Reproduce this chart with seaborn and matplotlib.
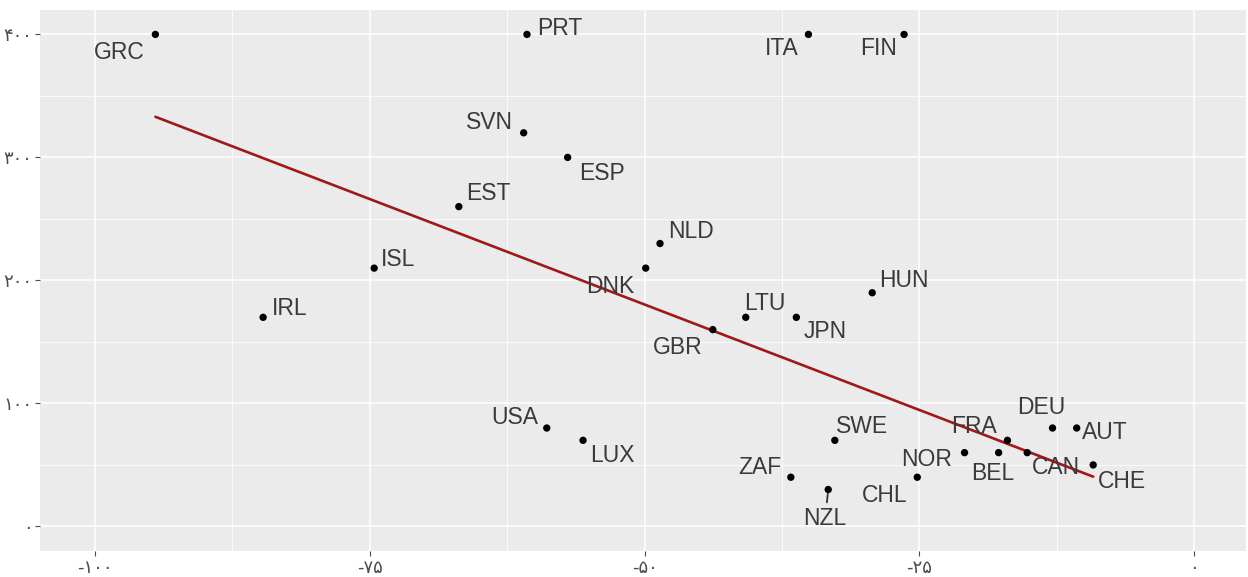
import pandas as pd
import matplotlib.pyplot as plt
import seaborn as sns
from matplotlib.ticker import MultipleLocator

# ------------------------------------------------------------------
# Daten
# ------------------------------------------------------------------
countries = ['GRC', 'PRT', 'ITA', 'FIN', 'SVN', 'ESP', 'EST', 'NLD', 'ISL', 'DNK',
             'IRL', 'HUN', 'LTU', 'JPN', 'GBR', 'USA', 'LUX', 'SWE', 'ZAF', 'NZL',
             'CHL', 'NOR', 'BEL', 'FRA', 'CAN', 'DEU', 'AUT', 'CHE']
x_values = [-94.5, -60.7, -35.1, -26.4, -61.0, -57.0, -66.9, -48.6, -74.6, -49.9,
            -84.7, -29.3, -40.8, -36.2, -43.8, -58.9, -55.6, -32.7, -36.7, -33.3,
            -25.2, -20.9, -17.8, -17.0, -15.2, -12.9, -10.7, -9.2]
y_values = [400, 400, 400, 400, 320, 300, 260, 230, 210, 210,
            170, 190, 170, 170, 160, 80, 70, 70, 40, 30,
            40, 60, 60, 70, 60, 80, 80, 50]

# Trendlinie
trend_intercept = 8.9
trend_slope = -3.43

x_ticks = [-100, -75, -50, -25, 0]
x_tick_labels = ['-۱۰۰', '-۷۵', '-۵۰', '-۲۵', '۰']
y_ticks = [0, 100, 200, 300, 400]
y_tick_labels = ['۰', '۱۰۰', '۲۰۰', '۳۰۰', '۴۰۰']

# Beschriftungs-Versatz in Pixeln (dx rechts, dy nach unten)
label_offsets = {
    'GRC': (-36, 18), 'PRT': (33, -6), 'ITA': (-27, 14), 'FIN': (-26, 14),
    'SVN': (-34, -10), 'ESP': (34, 16), 'EST': (29, -13), 'NLD': (31, -12),
    'ISL': (24, -9), 'DNK': (-35, 18), 'IRL': (27, -9), 'HUN': (32, -12),
    'LTU': (19, -14), 'JPN': (29, 14), 'GBR': (-35, 18), 'USA': (-32, -11),
    'LUX': (29, 15), 'SWE': (27, -14), 'ZAF': (-31, -10), 'NZL': (-3, 29),
    'CHL': (-33, 18), 'NOR': (-38, 7), 'BEL': (-6, 21), 'FRA': (-33, -14),
    'CAN': (29, 15), 'DEU': (-11, -21), 'AUT': (28, 4), 'CHE': (29, 17),
}

df = pd.DataFrame({'land': countries, 'x': x_values, 'y': y_values})

x_line = [min(x_values), max(x_values)]
df_line = pd.DataFrame({'x': x_line,
                        'y': [trend_intercept + trend_slope * v for v in x_line]})

# ------------------------------------------------------------------
# Stil
# ------------------------------------------------------------------
sns.set_theme(style="darkgrid", rc={
    "axes.facecolor": "#EBEBEB",
    "grid.color": "white",
    "xtick.bottom": True,
    "ytick.left": True,
    "xtick.major.size": 3.5,
    "ytick.major.size": 3.5,
    "xtick.major.width": 0.8,
    "ytick.major.width": 0.8,
    "xtick.color": "#4D4D4D",
    "ytick.color": "#4D4D4D",
})
plt.rcParams['font.family'] = ['Liberation Sans', 'DejaVu Sans']

fig = plt.figure(figsize=(12.48, 5.77), dpi=100)
ax = fig.add_axes([0.032, 0.045, 0.9664, 0.938])

sns.lineplot(data=df_line, x='x', y='y', color='#A01818', linewidth=1.9, ax=ax, zorder=2)
sns.scatterplot(data=df, x='x', y='y', color='black', s=28, edgecolor='none', ax=ax, zorder=3)

for _, row in df.iterrows():
    dx, dy = label_offsets[row['land']]
    arrow = None
    if row['land'] == 'NZL':
        arrow = dict(arrowstyle='-', color='#333333', lw=1.3, shrinkA=1, shrinkB=3)
    ax.annotate(row['land'], xy=(row['x'], row['y']), xytext=(dx, -dy),
                textcoords='offset pixels', ha='center', va='center',
                fontsize=16.5, color='#3a3a3a', family=['Liberation Sans', 'DejaVu Sans'],
                arrowprops=arrow, zorder=4)

ax.set_xlim(-105, 4.7)
ax.set_ylim(-20, 420)
ax.set_xticks(x_ticks)
ax.set_xticklabels(x_tick_labels, fontsize=13, color='#4D4D4D', family=['DejaVu Sans'])
ax.set_yticks(y_ticks)
ax.set_yticklabels(y_tick_labels, fontsize=13, color='#4D4D4D', family=['DejaVu Sans'])
ax.xaxis.set_minor_locator(MultipleLocator(12.5))
ax.yaxis.set_minor_locator(MultipleLocator(50))
ax.grid(True, which='major', color='white', linewidth=1.1)
ax.grid(True, which='minor', color='white', linewidth=0.55)
ax.tick_params(which='minor', length=0)
ax.tick_params(which='major', pad=2)
ax.set_xlabel('')
ax.set_ylabel('')
for s in ax.spines.values():
    s.set_visible(False)

plt.savefig('out.png', dpi=100)
plt.close()
